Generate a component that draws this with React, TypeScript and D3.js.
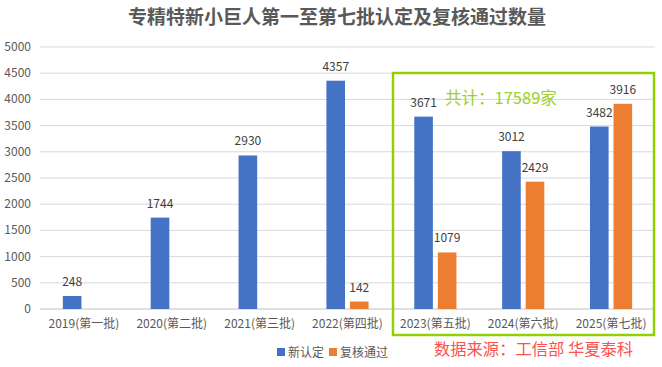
import { useEffect, useRef } from "react";
import * as d3 from "d3";

const categories = ["2019(第一批)", "2020(第二批)", "2021(第三批)", "2022(第四批)", "2023(第五批)", "2024(第六批)", "2025(第七批)"];
const seriesNames = ["新认定", "复核通过"];
const newValues = [248, 1744, 2930, 4357, 3671, 3012, 3482];
const reviewValues = [0, 0, 0, 142, 1079, 2429, 3916];
const yTicks = [0, 500, 1000, 1500, 2000, 2500, 3000, 3500, 4000, 4500, 5000];

const title = "专精特新小巨人第一至第七批认定及复核通过数量";
const totalNote = "共计：17589家";
const sourceNote = "数据来源：工信部 华夏泰科";

const colors = ["#4472C4", "#ED7D31"];
const green = "#92D000";
const font = "'Noto Sans CJK SC', 'Noto Sans', sans-serif";

export default function App() {
  const ref = useRef(null);

  const width = 662;
  const height = 367;
  const marginLeft = 40;
  const marginRight = 7;
  const marginTop = 47;
  const plotBottom = 309;

  useEffect(() => {
    const svg = d3.select(ref.current);
    svg.selectAll("*").remove();

    const x0 = d3.scaleBand()
      .domain(categories)
      .range([marginLeft, width - marginRight])
      .paddingInner(0.52)
      .paddingOuter(0.26);

    const x1 = d3.scaleBand()
      .domain(seriesNames)
      .range([0, x0.bandwidth()])
      .paddingInner(0.21);

    const y = d3.scaleLinear()
      .domain([0, 5000])
      .range([plotBottom, marginTop]);

    // title
    svg.append("text")
      .attr("x", 337)
      .attr("y", 24)
      .attr("text-anchor", "middle")
      .attr("font-size", 19)
      .attr("font-weight", "bold")
      .attr("fill", "#595959")
      .text(title);

    // gridlines + y labels
    const gy = svg.append("g");
    gy.selectAll("line")
      .data(yTicks)
      .join("line")
      .attr("x1", marginLeft)
      .attr("x2", width - marginRight)
      .attr("y1", d => y(d))
      .attr("y2", d => y(d))
      .attr("stroke", d => d === 0 ? "#bfbfbf" : "#d9d9d9");
    gy.selectAll("text")
      .data(yTicks)
      .join("text")
      .attr("x", 31)
      .attr("y", d => y(d) + 4)
      .attr("text-anchor", "end")
      .attr("font-size", 12)
      .attr("fill", "#595959")
      .text(d => d);

    // bars
    const rows = categories.map((c, i) => ({ c, vals: [newValues[i], reviewValues[i]] }));
    const groups = svg.append("g")
      .selectAll("g")
      .data(rows)
      .join("g")
      .attr("transform", d => `translate(${x0(d.c)},0)`);

    groups.selectAll("rect")
      .data(d => d.vals.map((v, j) => ({ v, s: seriesNames[j], j })))
      .join("rect")
      .attr("x", d => x1(d.s))
      .attr("y", d => y(d.v))
      .attr("width", x1.bandwidth())
      .attr("height", d => plotBottom - y(d.v))
      .attr("fill", d => colors[d.j]);

    groups.selectAll("text")
      .data(d => d.vals.map((v, j) => ({ v, s: seriesNames[j], j })).filter(d => d.v > 0))
      .join("text")
      .attr("x", d => x1(d.s) + x1.bandwidth() / 2)
      .attr("y", d => y(d.v) - 10)
      .attr("text-anchor", "middle")
      .attr("font-size", 12)
      .attr("fill", "#404040")
      .text(d => d.v);

    // x labels
    svg.append("g")
      .selectAll("text")
      .data(categories)
      .join("text")
      .attr("x", d => x0(d) + x0.bandwidth() / 2)
      .attr("y", 328)
      .attr("text-anchor", "middle")
      .attr("font-size", 12)
      .attr("fill", "#595959")
      .text(d => d);

    // highlight box
    svg.append("rect")
      .attr("x", 393)
      .attr("y", 73)
      .attr("width", 261)
      .attr("height", 262)
      .attr("fill", "none")
      .attr("stroke", green)
      .attr("stroke-width", 2.5);

    svg.append("text")
      .attr("x", 445)
      .attr("y", 104)
      .attr("font-size", 16.5)
      .attr("fill", "#9CD12A")
      .text(totalNote);

    // legend
    const legend = svg.append("g").attr("transform", "translate(277,348)");
    const items = legend.selectAll("g")
      .data(seriesNames)
      .join("g")
      .attr("transform", (d, i) => `translate(${i * 52},0)`);
    items.append("rect")
      .attr("width", 8)
      .attr("height", 8)
      .attr("fill", (d, i) => colors[i]);
    items.append("text")
      .attr("x", 11)
      .attr("y", 9)
      .attr("font-size", 12)
      .attr("fill", "#595959")
      .text(d => d);

    // source
    svg.append("text")
      .attr("x", 434)
      .attr("y", 355)
      .attr("font-size", 16.3)
      .attr("fill", "#FF5050")
      .text(sourceNote);
  }, []);

  return (
    <svg
      ref={ref}
      width={width}
      height={height}
      style={{ position: "absolute", left: 0, top: 0, background: "#fff", fontFamily: font }}
    />
  );
}
